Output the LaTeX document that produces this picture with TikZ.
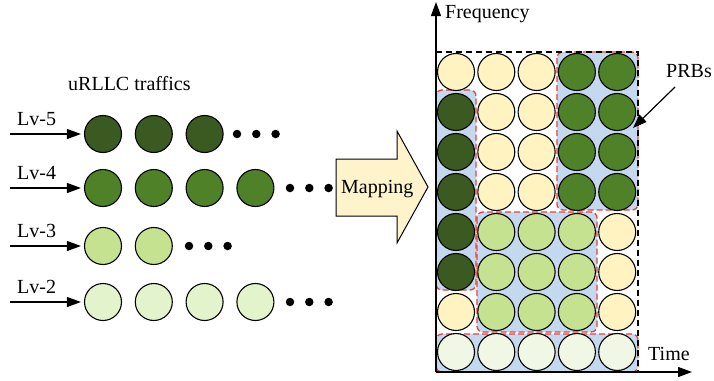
\documentclass[tikz,border=0pt]{standalone}
\usepackage{fontspec}
\setmainfont{Liberation Serif}
\usetikzlibrary{arrows.meta}
\definecolor{cD}{HTML}{3A5A22}
\definecolor{cG}{HTML}{4F8228}
\definecolor{cL}{HTML}{C5E290}
\definecolor{cP}{HTML}{E3F3CC}
\definecolor{cV}{HTML}{F0F7E4}
\definecolor{cY}{HTML}{FFF4C1}
\definecolor{cB}{HTML}{C4D9F0}
\definecolor{cM}{HTML}{FFF3CC}
\definecolor{cR}{HTML}{E8403A}
\begin{document}
\begin{tikzpicture}[x=1pt,y=-1pt,
  ball/.style={circle, draw=black, line width=1.1pt, minimum size=37pt, inner sep=0pt},
  bigdot/.style={circle, fill=black, minimum size=8.5pt, inner sep=0pt},
  lbl/.style={font=\fontsize{20}{24}\selectfont, inner sep=0pt, anchor=base west},
  region/.style={fill=cB, draw=cR, line width=1.3pt, dash pattern=on 6pt off 3pt, rounded corners=6pt},
  arr/.style={line width=1.2pt, -{Triangle[length=14pt,width=10pt]}},
  axis/.style={line width=1.2pt, -{Triangle[length=14pt,width=10pt]}}
]
\useasboundingbox (0,0) rectangle (714,380);

% ---------- left side ----------
\node[lbl] (title) at (68,90) {uRLLC traffics};

\foreach \lv/\y/\col/\n/\dx in {5/134/cD/3/237, 4/188/cG/4/290, 3/246/cL/2/189, 2/302/cP/4/290}{
  \node[lbl] (lab\lv) at (17,\y-9) {Lv-\lv};
  \foreach \k in {1,...,\n}{
    \pgfmathsetmacro{\xx}{103+(\k-1)*50.8}
    \node[ball, fill=\col] (b\lv-\k) at (\xx,\y) {};
  }
  \foreach \d in {0,1,2}{
    \node[bigdot] (d\lv-\d) at (\dx+\d*19.3,\y) {};
  }
  \coordinate (s\lv) at (10,\y);
  \draw[arr, shorten >=3pt] (s\lv) -- (b\lv-1);
}

% ---------- mapping arrow ----------
\draw[fill=cM, line width=1pt, line join=miter]
  (336,159) -- (397,159) -- (397,131) -- (428,187) -- (397,243) -- (397,216) -- (336,216) -- cycle;
\node[lbl] (map) at (341,193) {Mapping};

% ---------- PRB regions ----------
\draw[region] (436,90) rectangle (476,290);
\draw[region] (557,52) rectangle (638,210);
\draw[region] (477,212) rectangle (597,332);
\draw[region] (436,334) rectangle (638,372);

% ---------- grid ----------
\foreach \r/\row in {1/{cY,cY,cY,cG,cG},2/{cD,cY,cY,cG,cG},3/{cD,cY,cY,cG,cG},4/{cD,cY,cY,cG,cG},
                     5/{cD,cL,cL,cL,cY},6/{cD,cL,cL,cL,cY},7/{cY,cL,cL,cL,cY},8/{cV,cV,cV,cV,cV}}{
  \foreach \cc [count=\c] in \row {
    \node[ball, fill=\cc] (g\r-\c) at ({456+(\c-1)*40.3},{72+(\r-1)*40}) {};
  }
}

% ---------- frame and axes ----------
\draw[line width=1.1pt, dash pattern=on 6pt off 4pt] (436,52) -- (638,52) -- (638,372);
\coordinate (O) at (436,372);
\coordinate (ytop) at (436,2);
\coordinate (xend) at (692,372);
\draw[axis] (O) -- (ytop);
\draw[axis] (O) -- (xend);
\node[lbl] (freq) at (445,18) {Frequency};
\node[lbl] (time) at (648,360) {Time};

% ---------- PRBs label ----------
\node[lbl] (prbs) at (666,77) {PRBs};
\coordinate (prbA) at (675,87);
\coordinate (prbB) at (633,128);
\draw[arr] (prbA) -- (prbB);
\end{tikzpicture}
\end{document}
